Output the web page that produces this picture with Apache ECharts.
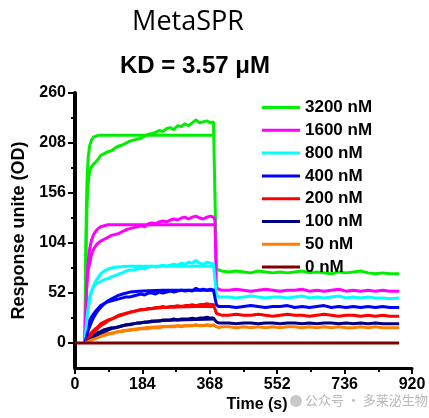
<!DOCTYPE html>
<html>
<head>
<meta charset="utf-8">
<script src="https://cdn.jsdelivr.net/npm/echarts@6/dist/echarts.min.js"></script>
<style>
  html, body { margin: 0; padding: 0; background: #fff; }
  #main { width: 429px; height: 418px; }
</style>
</head>
<body>
<div id="main"></div>
<script>
var chart = echarts.init(document.getElementById("main"));

// concentrations (legend) and colours
var names = ['3200 nM', '1600 nM', '800 nM', '400 nM', '200 nM', '100 nM', '50 nM', '0 nM'];
var colors = ['#00ee00', '#ff00ff', '#00ffff', '#0000ff', '#ff0000', '#000080', '#ff8000', '#800000'];

// measured sensorgram time points (s)
var timeMeas = [27, 29, 31, 33, 36, 40, 45, 50, 56, 63, 70, 80, 90, 100, 110, 120, 130, 140, 150, 160,
  170, 180, 190, 200, 210, 220, 230, 240, 250, 260, 270, 280, 290, 300, 310, 320, 330, 340, 350, 360,
  370, 378, 382, 386, 392, 400, 420, 440, 460, 480, 500, 520, 540, 560, 580, 600, 620, 640, 660, 680,
  700, 720, 740, 760, 780, 800, 820, 840, 860, 885];

// measured responses
var meas3200 = [2, 60, 115, 145, 166, 179, 183, 186, 188, 191, 195, 197, 199, 200, 203, 205, 206, 208, 210, 211,
  212, 213, 215, 217, 218, 219, 221, 220, 223, 224, 222, 226, 225, 228, 226, 229, 232, 229, 230, 231,
  229, 230, 228, 78, 76, 75, 74, 75, 74, 73, 75, 74, 73, 74, 73, 74, 75, 73, 74, 73,
  72, 74, 73, 74, 75, 73, 72, 73, 72, 72];
var meas1600 = [1, 25, 50, 66, 76, 83, 92, 97, 101, 104, 106, 108, 110, 112, 113, 114, 116, 118, 119, 120,
  121, 122, 121, 124, 125, 124, 126, 127, 126, 128, 129, 128, 130, 131, 129, 131, 132, 130, 129, 131,
  132, 131, 128, 58, 56, 55, 55, 56, 55, 54, 55, 56, 55, 54, 55, 55, 56, 54, 55, 54,
  55, 56, 54, 55, 54, 55, 54, 55, 54, 54];
var meas800 = [1, 12, 24, 33, 40, 48, 54, 58, 61, 63, 64, 66, 67, 69, 70, 72, 73, 75, 76, 76,
  77, 78, 77, 79, 80, 79, 80, 81, 80, 81, 82, 81, 83, 82, 84, 83, 86, 83, 82, 84,
  83, 82, 80, 50, 48, 48, 48, 47, 48, 49, 48, 47, 48, 48, 47, 48, 49, 47, 48, 47,
  48, 49, 47, 48, 47, 48, 47, 47, 46, 47];
var meas400 = [0, 5, 11, 16, 20, 24, 27, 30, 33, 36, 39, 41, 43, 44, 45, 46, 47, 48, 48, 49,
  50, 51, 50, 52, 52, 51, 53, 52, 53, 54, 53, 54, 55, 54, 55, 54, 57, 55, 56, 55,
  56, 55, 54, 40, 38, 38, 38, 37, 38, 39, 38, 37, 38, 38, 39, 37, 38, 37, 38, 39,
  37, 38, 37, 38, 37, 38, 37, 38, 37, 37];
var meas200 = [0, 2, 4, 5, 7, 9, 11, 13, 15, 17, 20, 22, 24, 25, 27, 29, 30, 31, 32, 33,
  34, 35, 35, 36, 36, 37, 37, 38, 37, 38, 38, 39, 38, 39, 39, 40, 39, 40, 40, 41,
  40, 40, 39, 31, 30, 29, 29, 30, 29, 29, 30, 29, 28, 29, 30, 29, 29, 28, 29, 30,
  29, 28, 29, 29, 28, 29, 28, 29, 28, 28];
var meas100 = [0, 1, 2, 3, 4, 5, 7, 8, 9, 11, 12, 14, 15, 16, 16, 17, 18, 19, 19, 20,
  21, 21, 22, 22, 23, 23, 23, 24, 24, 24, 25, 24, 25, 25, 25, 26, 25, 26, 26, 27,
  26, 26, 25, 22, 21, 21, 21, 20, 21, 21, 20, 21, 21, 20, 21, 21, 20, 21, 20, 21,
  21, 20, 21, 20, 21, 20, 21, 20, 20, 20];
var meas50 = [0, 1, 1, 2, 2, 3, 4, 5, 6, 7, 8, 9, 10, 10, 11, 12, 12, 13, 13, 14,
  14, 15, 15, 15, 16, 16, 16, 17, 17, 17, 17, 18, 17, 18, 18, 18, 19, 18, 18, 19,
  18, 19, 18, 17, 16, 17, 17, 16, 17, 16, 17, 16, 17, 16, 17, 17, 16, 17, 16, 17,
  16, 17, 16, 16, 17, 16, 17, 16, 16, 16];
var time0 = [0, 885];
var meas0 = [0, 0];

// fitted association curves
var timeFit = [27, 29, 31, 33, 36, 40, 45, 50, 56, 63, 70, 80, 90, 100, 115, 130, 150, 175, 200, 240, 280, 330, 382];
var fit3200 = [0, 85, 140, 172, 193, 205, 211, 214, 215, 216, 216, 216, 216, 216, 216, 216, 216, 216, 216, 216, 216, 216, 216];
var fit1600 = [0, 30, 52, 68, 85, 98, 107, 112, 116, 119, 121, 122, 123, 123, 123, 123, 123, 123, 123, 123, 123, 123, 123];
var fit800 = [0, 10, 19, 27, 36, 45, 53, 59, 64, 68, 72, 75, 77, 78, 79, 79.5, 80, 80, 80, 80, 80, 80, 80];
var fit400 = [0, 3, 6, 9, 13, 17, 22, 26, 30, 34, 37, 41, 44, 46, 49, 51, 53, 54, 54.5, 55, 55, 55, 55];
var fit200 = [0, 1, 2, 3, 4.5, 6.5, 9, 11, 13, 15.5, 18, 20.5, 23, 25, 27.5, 29.5, 32, 34, 35.5, 37, 37.5, 38, 38];
var fit100 = [0, 0.5, 1, 1.5, 2.5, 3.5, 5, 6, 7.5, 9, 10.5, 12, 13.5, 15, 16.5, 18, 19.5, 21, 22, 23.5, 24, 24.5, 25];
var fit50 = [0, 0.3, 0.6, 1, 1.5, 2.2, 3, 3.8, 4.7, 5.7, 6.7, 8, 9.2, 10.2, 11.6, 12.8, 14, 15.3, 16.2, 17.2, 17.8, 18.2, 18.5];

// axis ticks
var xTicks = [0, 184, 368, 552, 736, 920];
var yTicks = [0, 52, 104, 156, 208, 260];
var yMinorTicks = [26, 78, 130, 182, 234];

var measList = [meas3200, meas1600, meas800, meas400, meas200, meas100, meas50];
var fitList = [fit3200, fit1600, fit800, fit400, fit200, fit100, fit50];

function pairs(ts, vs) {
  return ts.map(function (t, i) { return [t, vs[i]]; });
}

var series = [];
measList.forEach(function (vals, i) {
  series.push({
    name: names[i], type: 'line', symbol: 'none', animation: false,
    data: pairs(timeMeas, vals),
    lineStyle: { width: 3, color: colors[i] }, itemStyle: { color: colors[i] }
  });
});
fitList.forEach(function (vals, i) {
  series.push({
    name: names[i], type: 'line', symbol: 'none', animation: false,
    data: pairs(timeFit, vals),
    lineStyle: { width: 3, color: colors[i] }, itemStyle: { color: colors[i] }
  });
});
series.push({
  name: names[7], type: 'line', symbol: 'none', animation: false,
  data: pairs(time0, meas0),
  lineStyle: { width: 3, color: colors[7] }, itemStyle: { color: colors[7] }
});

var bold = { color: '#000', fontWeight: 'bold', fontFamily: 'Arial, "Liberation Sans"' };

var option = {
  backgroundColor: '#fff',
  title: [{
    text: 'MetaSPR', left: 183, top: 4, textAlign: 'center',
    textStyle: { fontFamily: '"Open Sans"', fontWeight: 'normal', fontSize: 27, color: '#000' }
  }, {
    text: 'KD = 3.57 μM', left: 190, top: 49, textAlign: 'center',
    textStyle: Object.assign({ fontSize: 24 }, bold)
  }],
  legend: {
    orient: 'vertical', left: 262, top: 99, padding: 0,
    icon: 'rect', itemWidth: 38, itemHeight: 3, itemGap: 5.8,
    data: names,
    textStyle: Object.assign({ fontSize: 17, lineHeight: 14 }, bold)
  },
  grid: { left: 75, right: 17, top: 93, bottom: 45 },
  xAxis: {
    type: 'value', min: 0, max: 920, interval: 184,
    name: 'Time (s)', nameLocation: 'middle', nameGap: 23,
    nameTextStyle: Object.assign({ fontSize: 16, padding: [0, 0, 0, 27] }, bold),
    axisLine: { onZero: false, lineStyle: { color: '#000', width: 3 } },
    axisTick: { length: 6, lineStyle: { width: 2, color: '#000' } },
    minorTick: { show: true, splitNumber: 2, length: 4, lineStyle: { width: 2, color: '#000' } },
    axisLabel: Object.assign({ fontSize: 16, margin: 8, customValues: xTicks }, bold),
    splitLine: { show: false }
  },
  yAxis: [{
    type: 'value', min: -26, max: 260,
    name: 'Response unite (OD)', nameLocation: 'middle', nameGap: 42,
    nameTextStyle: Object.assign({ fontSize: 18 }, bold),
    axisLine: { onZero: false, lineStyle: { color: '#000', width: 4 } },
    axisTick: { length: 7, customValues: yTicks, lineStyle: { width: 2, color: '#000' } },
    axisLabel: Object.assign({ fontSize: 16, margin: 9, customValues: yTicks }, bold),
    splitLine: { show: false }
  }, {
    type: 'value', min: -26, max: 260, position: 'left',
    axisLine: { show: false },
    axisTick: { length: 4, customValues: yMinorTicks, lineStyle: { width: 2, color: '#000' } },
    axisLabel: { show: false },
    splitLine: { show: false }
  }],
  graphic: [{
    type: 'text', left: 305, top: 394,
    style: { text: '公众号 · 多莱泌生物', fill: '#b8b8b8', font: '13px "Noto Sans CJK SC"' }
  }, {
    type: 'circle', shape: { cx: 296, cy: 401, r: 6 }, style: { fill: '#c8c8c8' }
  }],
  series: series
};
chart.setOption(option);
</script>
</body>
</html>
